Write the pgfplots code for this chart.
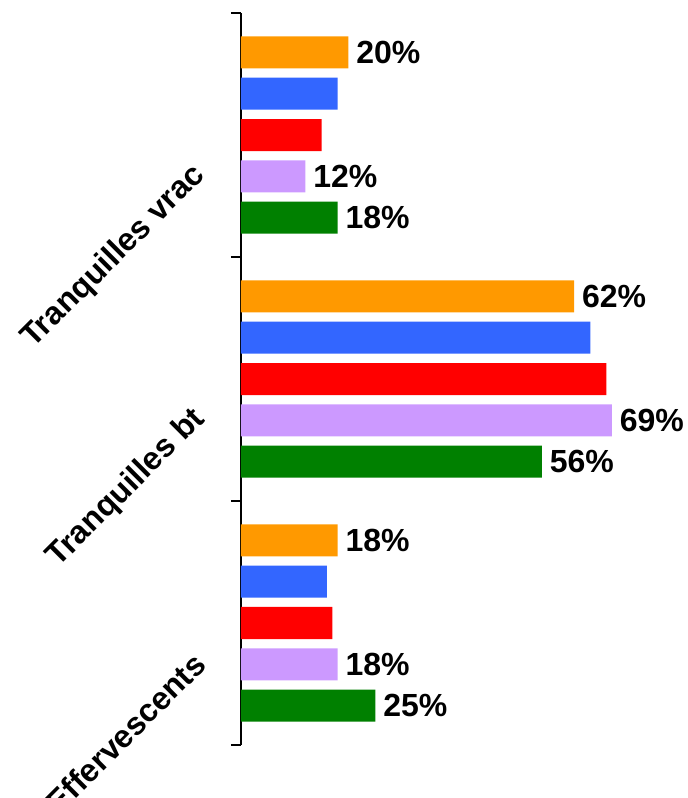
\documentclass[border=0pt]{standalone}
\usepackage{fontspec}
\setmainfont{Liberation Sans}
\usepackage{pgfplots}
\pgfplotsset{compat=1.18}

\definecolor{cOrange}{RGB}{255,153,0}
\definecolor{cBlue}{RGB}{51,102,255}
\definecolor{cRed}{RGB}{255,0,0}
\definecolor{cPurple}{RGB}{204,153,255}
\definecolor{cGreen}{RGB}{0,128,0}

\newcommand{\lblfont}{\bfseries\fontsize{16}{19}\selectfont}

\begin{document}
\begin{tikzpicture}
\begin{axis}[
    xbar,
    scale only axis,
    width=215pt,
    height=366pt,
    xmin=0, xmax=80,
    ymin=-0.5, ymax=2.5,
    axis x line=none,
    axis y line=left,
    y axis line style={-, line width=0.9pt},
    ytick={0,1,2},
    yticklabels={Effervescents,Tranquilles bt,Tranquilles vrac},
    major tick length=0pt,
    minor ytick={-0.5,0.5,1.5,2.5},
    minor tick length=5pt,
    tick align=outside,
    minor tick style={black, line width=0.8pt},
    % shifts are in the rotated frame of the label
    yticklabel style={font=\lblfont, rotate=45, anchor=east, inner sep=0pt,
        xshift=-27pt, yshift=1.9pt},
    bar width=16pt,
    point meta=x,
    /pgf/number format/assume math mode=true,
    every node near coord/.append style={font=\lblfont, anchor=west, inner sep=3.75pt, black},
    clip=false,
]

% top to bottom within each group: orange, blue, red, purple, green
\addplot[fill=cOrange, draw=none, bar shift=41.25pt,
    nodes near coords={\pgfmathprintnumber{\pgfplotspointmeta}\%}]
    coordinates {(20,2) (62,1) (18,0)};
\addplot[fill=cBlue, draw=none, bar shift=20.625pt]
    coordinates {(18,2) (65,1) (16,0)};
\addplot[fill=cRed, draw=none, bar shift=0pt]
    coordinates {(15,2) (68,1) (17,0)};
\addplot[fill=cPurple, draw=none, bar shift=-20.625pt,
    nodes near coords={\pgfmathprintnumber{\pgfplotspointmeta}\%}]
    coordinates {(12,2) (69,1) (18,0)};
\addplot[fill=cGreen, draw=none, bar shift=-41.25pt,
    nodes near coords={\pgfmathprintnumber{\pgfplotspointmeta}\%}]
    coordinates {(18,2) (56,1) (25,0)};

\end{axis}
\pgfresetboundingbox
\path ([shift={(-120.5pt,6.5pt)}]current axis.north west)
    rectangle ([shift={(223.5pt,-26.5pt)}]current axis.south west);
\end{tikzpicture}
\end{document}
